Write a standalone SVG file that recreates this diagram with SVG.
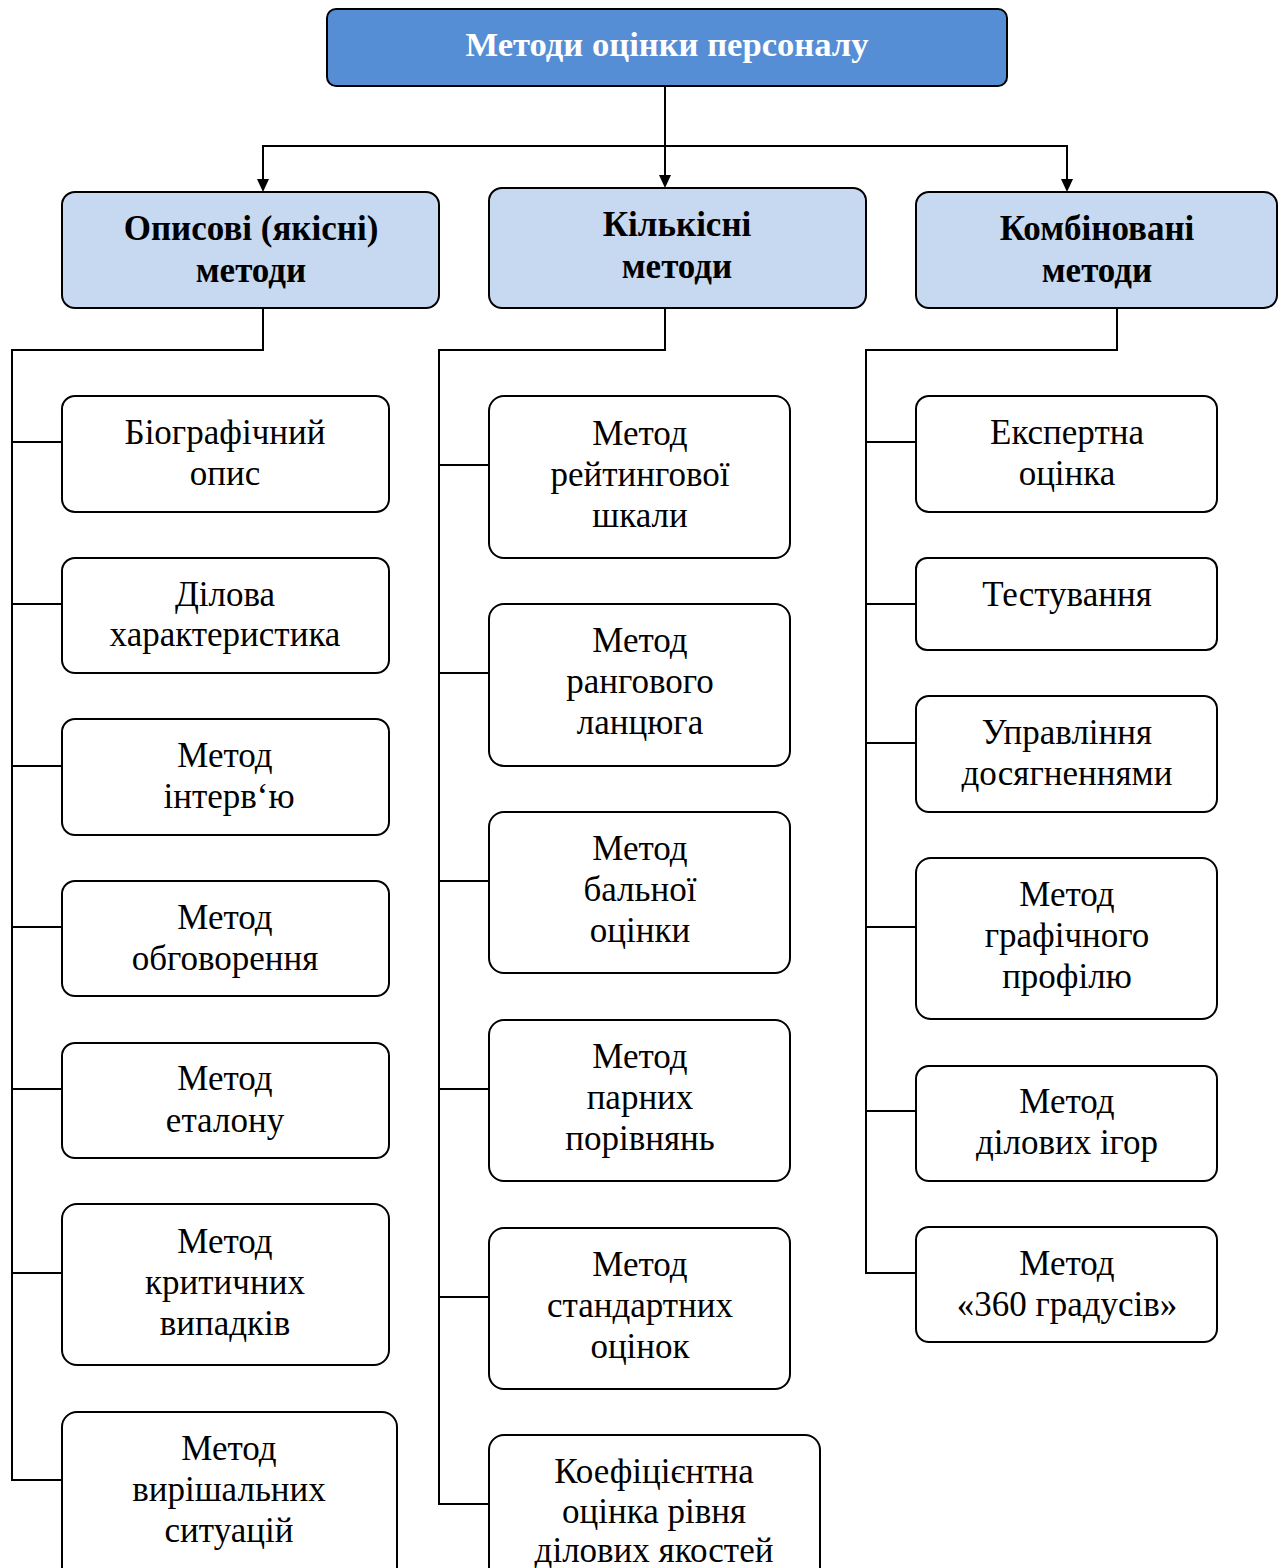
<svg xmlns="http://www.w3.org/2000/svg" width="1283" height="1568" viewBox="0 0 1283 1568">
<defs>
<style>
.box{fill:#ffffff;stroke:#000;stroke-width:2}
.hdr{fill:#c6d9f1;stroke:#000;stroke-width:2}
.top{fill:#558ed5;stroke:#000;stroke-width:2}
.t{font-family:"Liberation Serif","Times New Roman",serif;font-size:35px;fill:#000;text-anchor:middle}
.h{font-family:"Liberation Serif","Times New Roman",serif;font-size:35px;font-weight:bold;fill:#000;text-anchor:middle}
.tt{font-family:"Liberation Serif","Times New Roman",serif;font-size:34px;font-weight:bold;fill:#fff;text-anchor:middle}
.ln{fill:none;stroke:#000;stroke-width:2}
.ah{fill:#000}
</style>
</defs>
<g id="connectors">
<path class="ln" d="M665,86 V176"/>
<path class="ah" d="M659,175 L671,175 L665,188 Z"/>
<path class="ln" d="M263,180 V146 H1067 V180"/>
<path class="ah" d="M257,179 L269,179 L263,192 Z"/>
<path class="ah" d="M1061,179 L1073,179 L1067,192 Z"/>
<path class="ln" d="M263,308 V350 H12 V1480 H62"/>
<path class="ln" d="M12,442 H62 M12,604 H62 M12,766 H62 M12,927 H62 M12,1089 H62 M12,1273 H62"/>
<path class="ln" d="M665,308 V350 H439 V1504 H489"/>
<path class="ln" d="M439,465 H489 M439,673 H489 M439,881 H489 M439,1089 H489 M439,1297 H489"/>
<path class="ln" d="M1117,308 V350 H866 V1273 H916"/>
<path class="ln" d="M866,442 H916 M866,604 H916 M866,743 H916 M866,927 H916 M866,1111 H916"/>
</g>
<g id="n-root">
<rect class="top" x="327" y="9" width="680" height="77" rx="9"/>
<text class="tt" x="667" y="56" textLength="403" lengthAdjust="spacingAndGlyphs">Методи оцінки персоналу</text>
</g>
<g id="n-opysovi">
<rect class="hdr" x="62" y="192" width="377" height="116" rx="13"/>
<text class="h" x="251" y="240">Описові (якісні)</text>
<text class="h" x="251" y="282">методи</text>
</g>
<g id="n-kilkisni">
<rect class="hdr" x="489" y="188" width="377" height="120" rx="13"/>
<text class="h" x="677" y="236">Кількісні</text>
<text class="h" x="677" y="278">методи</text>
</g>
<g id="n-kombinovani">
<rect class="hdr" x="916" y="192" width="361" height="116" rx="13"/>
<text class="h" x="1097" y="240">Комбіновані</text>
<text class="h" x="1097" y="282">методи</text>
</g>
<g id="n-l1">
<rect class="box" x="62" y="396" width="327" height="116" rx="13"/>
<text class="t" x="225" y="444">Біографічний</text>
<text class="t" x="225" y="485">опис</text>
</g>
<g id="n-l2">
<rect class="box" x="62" y="558" width="327" height="115" rx="13"/>
<text class="t" x="225" y="606">Ділова</text>
<text class="t" x="225" y="646">характеристика</text>
</g>
<g id="n-l3">
<rect class="box" x="62" y="719" width="327" height="116" rx="13"/>
<text class="t" x="225" y="767">Метод</text>
<text class="t" x="229" y="808">інтерв‘ю</text>
</g>
<g id="n-l4">
<rect class="box" x="62" y="881" width="327" height="115" rx="13"/>
<text class="t" x="225" y="929">Метод</text>
<text class="t" x="225" y="970">обговорення</text>
</g>
<g id="n-l5">
<rect class="box" x="62" y="1043" width="327" height="115" rx="13"/>
<text class="t" x="225" y="1090">Метод</text>
<text class="t" x="225" y="1132">еталону</text>
</g>
<g id="n-l6">
<rect class="box" x="62" y="1204" width="327" height="161" rx="15"/>
<text class="t" x="225" y="1253">Метод</text>
<text class="t" x="225" y="1294">критичних</text>
<text class="t" x="225" y="1335">випадків</text>
</g>
<g id="n-l7">
<rect class="box" x="62" y="1412" width="335" height="176" rx="15"/>
<text class="t" x="229" y="1460">Метод</text>
<text class="t" x="229" y="1501">вирішальних</text>
<text class="t" x="229" y="1542">ситуацій</text>
</g>
<g id="n-m1">
<rect class="box" x="489" y="396" width="301" height="162" rx="15"/>
<text class="t" x="640" y="445">Метод</text>
<text class="t" x="640" y="486">рейтингової</text>
<text class="t" x="640" y="527">шкали</text>
</g>
<g id="n-m2">
<rect class="box" x="489" y="604" width="301" height="162" rx="15"/>
<text class="t" x="640" y="652">Метод</text>
<text class="t" x="640" y="693">рангового</text>
<text class="t" x="640" y="734">ланцюга</text>
</g>
<g id="n-m3">
<rect class="box" x="489" y="812" width="301" height="161" rx="15"/>
<text class="t" x="640" y="860">Метод</text>
<text class="t" x="640" y="901">бальної</text>
<text class="t" x="640" y="942">оцінки</text>
</g>
<g id="n-m4">
<rect class="box" x="489" y="1020" width="301" height="161" rx="15"/>
<text class="t" x="640" y="1068">Метод</text>
<text class="t" x="640" y="1109">парних</text>
<text class="t" x="640" y="1150">порівнянь</text>
</g>
<g id="n-m5">
<rect class="box" x="489" y="1228" width="301" height="161" rx="15"/>
<text class="t" x="640" y="1276">Метод</text>
<text class="t" x="640" y="1317">стандартних</text>
<text class="t" x="640" y="1358">оцінок</text>
</g>
<g id="n-m6">
<rect class="box" x="489" y="1435" width="331" height="160" rx="15"/>
<text class="t" x="654" y="1483">Коефіцієнтна</text>
<text class="t" x="654" y="1523">оцінка рівня</text>
<text class="t" x="654" y="1562">ділових якостей</text>
</g>
<g id="n-r1">
<rect class="box" x="916" y="396" width="301" height="116" rx="13"/>
<text class="t" x="1067" y="444">Експертна</text>
<text class="t" x="1067" y="485">оцінка</text>
</g>
<g id="n-r2">
<rect class="box" x="916" y="558" width="301" height="92" rx="11"/>
<text class="t" x="1067" y="606">Тестування</text>
</g>
<g id="n-r3">
<rect class="box" x="916" y="696" width="301" height="116" rx="13"/>
<text class="t" x="1067" y="744">Управління</text>
<text class="t" x="1067" y="785">досягненнями</text>
</g>
<g id="n-r4">
<rect class="box" x="916" y="858" width="301" height="161" rx="15"/>
<text class="t" x="1067" y="906">Метод</text>
<text class="t" x="1067" y="947">графічного</text>
<text class="t" x="1067" y="988">профілю</text>
</g>
<g id="n-r5">
<rect class="box" x="916" y="1066" width="301" height="115" rx="13"/>
<text class="t" x="1067" y="1113">Метод</text>
<text class="t" x="1067" y="1154">ділових ігор</text>
</g>
<g id="n-r6">
<rect class="box" x="916" y="1227" width="301" height="115" rx="13"/>
<text class="t" x="1067" y="1275">Метод</text>
<text class="t" x="1067" y="1316">«360 градусів»</text>
</g>
</svg>
